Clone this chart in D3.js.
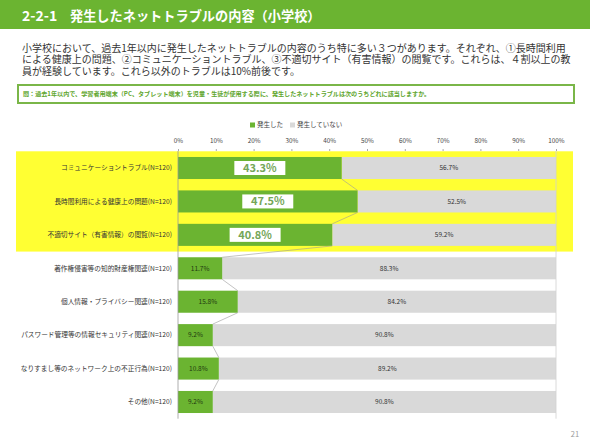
<html>
<head>
<meta charset="utf-8">
<style>
    body { margin: 0; background: #fff; }
    text { font-family: "Noto Sans CJK JP", "Noto Sans", sans-serif; }
</style>
</head>
<body>
<svg id="container" width="590" height="442"></svg>
<script src="https://cdn.jsdelivr.net/npm/d3@7"></script>
<script>
    // data
    let categories = [
        "コミュニケーショントラブル(N=120)",
        "長時間利用による健康上の問題(N=120)",
        "不適切サイト（有害情報）の閲覧(N=120)",
        "著作権侵害等の知的財産権関連(N=120)",
        "個人情報・プライバシー関連(N=120)",
        "パスワード管理等の情報セキュリティ関連(N=120)",
        "なりすまし等のネットワーク上の不正行為(N=120)",
        "その他(N=120)"
    ]
    let occurred = [43.3, 47.5, 40.8, 11.7, 15.8, 9.2, 10.8, 9.2]
    let notOccurred = [56.7, 52.5, 59.2, 88.3, 84.2, 90.8, 89.2, 90.8]
    let seriesNames = ["発生した", "発生していない"]
    let ticks = [0, 10, 20, 30, 40, 50, 60, 70, 80, 90, 100]
    let highlighted = 3  // first three rows are highlighted

    let paragraph = [
        "小学校において、過去1年以内に発生したネットトラブルの内容のうち特に多い３つがあります。それぞれ、①長時間利用",
        "による健康上の問題、②コミュニケーショントラブル、③不適切サイト（有害情報）の閲覧です。これらは、４割以上の教",
        "員が経験しています。これら以外のトラブルは10%前後です。"
    ]
    let question = "問：過去1年以内で、学習者用端末（PC、タブレット端末）を児童・生徒が使用する際に、発生したネットトラブルは次のうちどれに該当しますか。"

    let green = "#6bb431"
    let gray = "#d9d9d9"
    let yellow = "#ffff33"

    let svg = d3.select("#container")

    // header band
    svg.append("rect").attr("x", 0).attr("y", 0).attr("width", 590).attr("height", 29).attr("fill", green)
    svg.append("text").attr("x", 22).attr("y", 21).attr("fill", "#fff")
        .style("font-size", "14px").style("font-weight", "bold").text("2-2-1")
    svg.append("text").attr("x", 70).attr("y", 21).attr("fill", "#fff")
        .style("font-size", "13.2px").style("font-weight", "bold").text("発生したネットトラブルの内容（小学校）")

    // paragraph
    svg.selectAll(".para").data(paragraph).enter()
        .append("text")
        .attr("class", "para")
        .attr("x", 22)
        .attr("y", (d, i) => 52.3 + i * 11.1)
        .attr("fill", "#333")
        .style("font-size", "10px")
        .text(d => d)

    // question box
    svg.append("rect").attr("x", 18).attr("y", 85).attr("width", 556).attr("height", 18)
        .attr("fill", "#fff").attr("stroke", "#7ab648").attr("stroke-width", 2)
    svg.append("text").attr("x", 23).attr("y", 96.3).attr("fill", "#5ea52c")
        .style("font-size", "6.1px").style("font-weight", "bold").text(question)

    // scales
    let x = d3.scaleLinear().domain([0, 100]).range([178, 556])
    let y = d3.scaleBand().domain(categories).range([151.3, 418.7])
        .paddingInner(0.34).paddingOuter(0.17)
    let bh = y.bandwidth()
    let gap = y.step() * 0.17

    // yellow highlight
    svg.append("rect")
        .attr("x", 16).attr("width", 557)
        .attr("y", y(categories[0]) - gap)
        .attr("height", y(categories[highlighted - 1]) + bh + gap - (y(categories[0]) - gap))
        .attr("fill", yellow)

    // legend
    let legend = svg.selectAll(".legend").data(seriesNames).enter()
        .append("g").attr("class", "legend")
        .attr("transform", (d, i) => `translate(${i == 0 ? 250 : 290},125)`)
    legend.append("rect").attr("x", 0).attr("y", -2.5).attr("width", 5).attr("height", 5)
        .attr("fill", (d, i) => i == 0 ? green : gray)
    legend.append("text").attr("x", 7).attr("y", 2.3).attr("fill", "#444")
        .style("font-size", "6.5px").text(d => d)

    // axis on top
    let axis = svg.append("g").attr("transform", "translate(0,151)")
        .call(d3.axisTop(x).tickValues(ticks).tickFormat(d => d + "%").tickSize(2).tickSizeOuter(0))
    axis.select(".domain").remove()
    axis.selectAll("line").attr("stroke", "#aaa")
    axis.selectAll("text").attr("fill", "#444").style("font-size", "6.3px")
        .style("font-family", "'Noto Sans CJK JP', sans-serif").attr("dy", "-3")

    // bars
    let rows = categories.map((c, i) => ({ cat: c, a: occurred[i], b: notOccurred[i], i: i }))

    svg.selectAll(".bar-b").data(rows).enter()
        .append("rect")
        .attr("x", d => x(d.a))
        .attr("y", d => y(d.cat))
        .attr("width", d => x(d.a + d.b) - x(d.a))
        .attr("height", bh)
        .attr("fill", gray)

    svg.selectAll(".bar-a").data(rows).enter()
        .append("rect")
        .attr("x", x(0))
        .attr("y", d => y(d.cat))
        .attr("width", d => x(d.a) - x(0))
        .attr("height", bh)
        .attr("fill", green)

    // series lines between rows
    let links = rows.slice(0, -1).map((d, i) => [d, rows[i + 1]])
    svg.selectAll(".link").data(links).enter()
        .append("line")
        .attr("x1", d => x(d[0].a)).attr("y1", d => y(d[0].cat) + bh)
        .attr("x2", d => x(d[1].a)).attr("y2", d => y(d[1].cat))
        .attr("stroke", "#9a9a9a").attr("stroke-width", 0.6)

    // axis lines
    svg.append("line").attr("x1", x(100)).attr("x2", x(100)).attr("y1", 151).attr("y2", 418.7)
        .attr("stroke", "#d0d0d0").attr("stroke-width", 0.8)
    svg.append("line").attr("x1", x(0)).attr("x2", x(0)).attr("y1", 151).attr("y2", 418.7)
        .attr("stroke", "#999").attr("stroke-width", 0.8)

    // category labels
    svg.selectAll(".cat").data(rows).enter()
        .append("text")
        .attr("x", 172)
        .attr("y", d => y(d.cat) + bh / 2)
        .attr("dy", "0.35em")
        .attr("text-anchor", "end")
        .attr("fill", "#333")
        .style("font-size", "6.7px")
        .text(d => d.cat)

    // value labels for the green part
    let big = rows.filter(d => d.i < highlighted)
    let small = rows.filter(d => d.i >= highlighted)

    svg.selectAll(".bigbox").data(big).enter()
        .append("rect")
        .attr("x", d => (x(0) + x(d.a)) / 2 - 25.5)
        .attr("y", d => y(d.cat) + bh / 2 - 7)
        .attr("width", 51).attr("height", 14)
        .attr("fill", "#fff")
    svg.selectAll(".bigtext").data(big).enter()
        .append("text")
        .attr("x", d => (x(0) + x(d.a)) / 2)
        .attr("y", d => y(d.cat) + bh / 2)
        .attr("dy", "0.36em")
        .attr("text-anchor", "middle")
        .attr("fill", "#74a657")
        .style("font-size", "11px").style("font-weight", "bold")
        .text(d => d.a.toFixed(1) + "%")

    svg.selectAll(".smalltext").data(small).enter()
        .append("text")
        .attr("x", d => (x(0) + x(d.a)) / 2)
        .attr("y", d => y(d.cat) + bh / 2)
        .attr("dy", "0.35em")
        .attr("text-anchor", "middle")
        .attr("fill", "#1f3a10")
        .style("font-size", "6.5px")
        .text(d => d.a.toFixed(1) + "%")

    // value labels for the gray part
    svg.selectAll(".graytext").data(rows).enter()
        .append("text")
        .attr("x", d => (x(d.a) + x(d.a + d.b)) / 2)
        .attr("y", d => y(d.cat) + bh / 2)
        .attr("dy", "0.35em")
        .attr("text-anchor", "middle")
        .attr("fill", "#333")
        .style("font-size", "6.5px")
        .text(d => d.b.toFixed(1) + "%")

    // page number
    svg.append("text").attr("x", 575).attr("y", 437).attr("text-anchor", "middle")
        .attr("fill", "#999").style("font-size", "7.5px").text("21")
</script>
</body>
</html>
